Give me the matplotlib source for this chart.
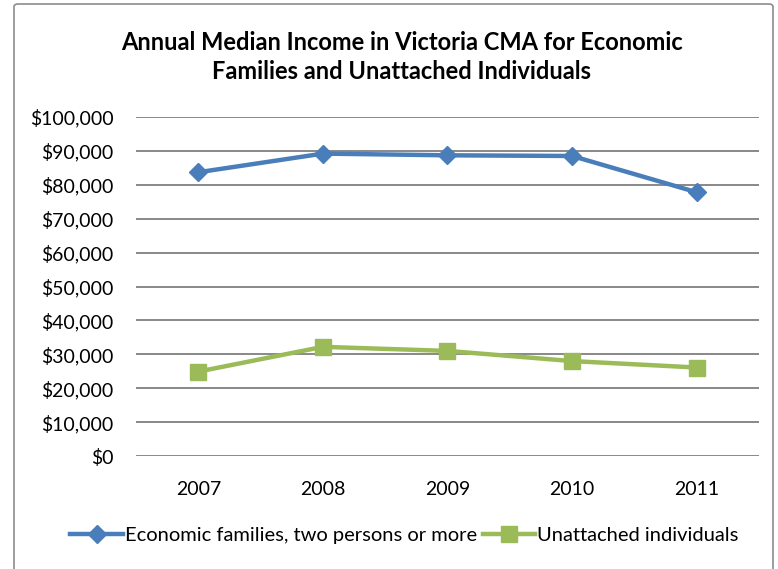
import matplotlib
matplotlib.use("Agg")
import matplotlib.pyplot as plt
from matplotlib.patches import FancyBboxPatch
from matplotlib.ticker import FuncFormatter

years = ["2007", "2008", "2009", "2010", "2011"]
families = [83700, 89200, 88700, 88500, 77800]
unattached = [24900, 32200, 31000, 28000, 26100]

plt.rcParams['font.family'] = ['Lato', 'DejaVu Sans']

fig = plt.figure(figsize=(7.78, 5.69), dpi=100)
W, H = 778, 569
ax = fig.add_axes([136 / W, 1 - 456 / H, (759 - 136) / W, (456 - 117) / H])

# chart frame
fig.patches.append(FancyBboxPatch((14 / W, -0.02), (773 - 14) / W, 1 - 4 / H + 0.02,
                                  boxstyle="round,pad=0,rounding_size=0.005",
                                  transform=fig.transFigure, fill=False,
                                  edgecolor="#8c8c8c", linewidth=1.2))

x = range(len(years))
ax.plot(x, families, color="#4A7EBB", lw=3.2, marker="D", ms=9.5,
        label="Economic families, two persons or more", zorder=3)
ax.plot(x, unattached, color="#9BBB59", lw=3.2, marker="s", ms=11,
        label="Unattached individuals", zorder=3)

ax.set_xlim(-0.5, len(years) - 0.5)
ax.set_ylim(0, 100000)
ax.set_yticks(range(0, 100001, 10000))
ax.yaxis.set_major_formatter(FuncFormatter(lambda v, p: f"${int(v):,}"))
ax.set_xticks(list(x))
ax.set_xticklabels(years)
ax.tick_params(length=0, labelsize=14, colors="black")
ax.tick_params(axis="y", pad=16)
ax.tick_params(axis="x", pad=18)
ax.grid(axis="y", color="#888888", lw=1.4)
ax.set_axisbelow(True)
for s in ax.spines.values():
    s.set_visible(False)

fig.text(402 / W, 1 - 57 / H, "Annual Median Income in Victoria CMA for Economic\nFamilies and Unattached Individuals",
         ha="center", va="center", fontsize=17, fontweight="bold", linespacing=1.3)

fig.legend(loc="center", bbox_to_anchor=(0.52, 1 - 535 / H), ncol=2, frameon=False,
           fontsize=14.5, handlelength=2.6, handletextpad=0.1, columnspacing=0.3)

fig.savefig("out.png", dpi=100)
